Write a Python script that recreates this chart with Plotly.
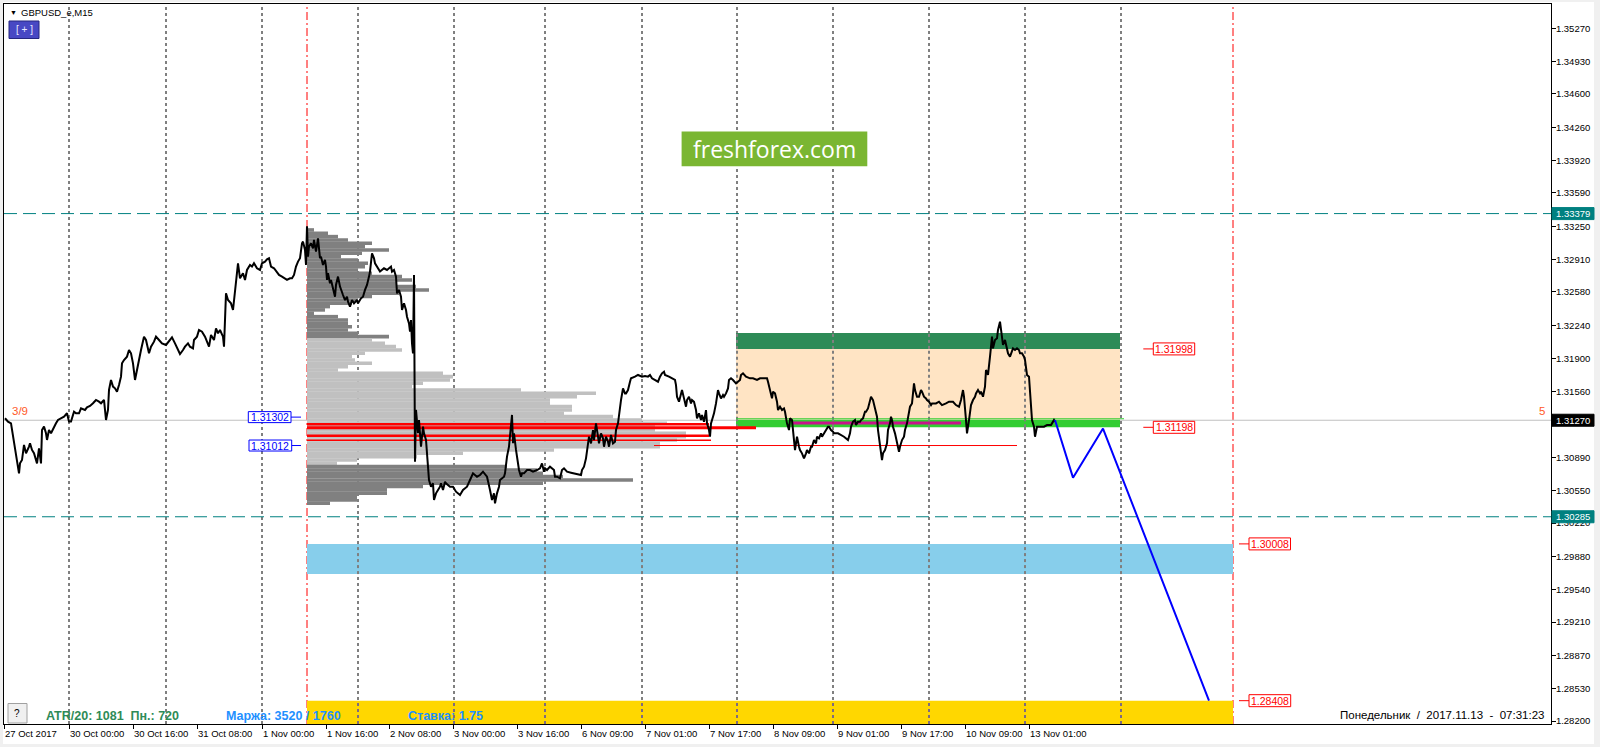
import plotly.graph_objects as go

# ---------------- data ----------------
TICK_BARS = [0, 65, 129, 193, 258, 322, 385, 449, 513, 577, 641, 705, 769, 833, 897, 961, 1025]
TICK_LABELS = ["27 Oct 2017", "30 Oct 00:00", "30 Oct 16:00", "31 Oct 08:00", "1 Nov 00:00",
               "1 Nov 16:00", "2 Nov 08:00", "3 Nov 00:00", "3 Nov 16:00", "6 Nov 09:00",
               "7 Nov 01:00", "7 Nov 17:00", "8 Nov 09:00", "9 Nov 01:00", "9 Nov 17:00",
               "10 Nov 09:00", "13 Nov 01:00"]
Y_TICKS = [1.35270, 1.34930, 1.34600, 1.34260, 1.33920, 1.33590, 1.33250, 1.32910, 1.32580,
           1.32240, 1.31900, 1.31560, 1.30890, 1.30550, 1.30220, 1.29880, 1.29540,
           1.29210, 1.28870, 1.28530, 1.28200]
Y_RANGE = [1.28170, 1.35518]
X_RANGE = [0, 1547]

DAY_SEPARATORS = [65, 162, 258, 354, 450, 541, 638, 733, 829, 925, 1021, 1117]
PERIOD_MARKERS = [303, 1229]

PRICE_BARS = [1, 4, 7, 9, 11, 13, 15, 16, 18, 20, 22, 25, 26, 28, 30, 33, 35, 37, 38, 40, 42, 43, 45, 47, 50,
    52, 54, 57, 60, 63, 65, 67, 70, 72, 75, 77, 81, 83, 86, 89, 92, 95, 97, 100, 102, 104, 105, 107, 109,
    111, 113, 115, 117, 118, 120, 123, 125, 127, 129, 131, 133, 135, 137, 140, 142, 145, 147, 150, 152,
    155, 158, 162, 165, 168, 171, 174, 176, 179, 181, 184, 186, 189, 190, 193, 195, 198, 201, 203, 205,
    207, 210, 212, 214, 216, 219, 220, 221, 222, 224, 227, 229, 231, 233, 234, 236, 239, 241, 243, 246,
    248, 250, 253, 256, 258, 261, 263, 265, 267, 270, 273, 275, 278, 281, 283, 286, 288, 290, 292, 294,
    296, 298, 299, 301, 302, 303, 304, 305, 307, 309, 310, 312, 314, 316, 317, 319, 321, 322, 323, 324,
    326, 327, 329, 331, 332, 334, 336, 337, 339, 341, 343, 344, 346, 348, 350, 353, 354, 357, 359, 361,
    363, 365, 366, 368, 370, 371, 373, 375, 376, 380, 383, 387, 388, 390, 392, 393, 395, 397, 398, 400,
    402, 403, 405, 406, 407, 408, 409, 410, 411, 412, 413, 414, 415, 417, 419, 420, 422, 424, 425, 427,
    429, 430, 432, 434, 436, 437, 439, 441, 442, 446, 449, 452, 456, 459, 463, 466, 469, 473, 476, 479,
    483, 486, 488, 490, 491, 493, 495, 496, 500, 501, 503, 505, 507, 508, 509, 510, 512, 513, 515, 517,
    518, 520, 523,
    526, 529, 533, 536, 538, 540, 541, 543, 546, 550, 551, 553, 556, 558, 560, 563, 567, 570, 573, 577,
    578, 580, 582, 583, 585, 587, 589, 590, 592, 594, 595, 597, 599, 600, 602, 604, 605, 607, 609, 611,
    612, 614, 616, 617, 619, 621, 622, 624, 626, 627, 631, 634, 638, 641, 644, 646, 648, 651, 654, 656,
    658, 660, 661, 665, 668, 671, 672, 673, 675, 676, 678, 680, 682, 683, 685, 687, 688, 690, 692, 693,
    695, 697, 698, 700, 702, 703, 705, 706, 707, 709, 710, 712, 714, 715, 717, 719, 720, 722, 724, 725,
    727, 729, 732, 736, 737, 739, 742, 746, 749, 753, 756, 759, 763, 764, 766, 768, 769, 771, 773, 774,
    776, 778, 780, 781, 783, 785, 786, 788, 790, 791, 792, 793, 795, 796, 798, 800, 802, 803, 805, 807,
    808, 810, 812, 813, 815, 817, 818, 820, 822, 824, 825, 827, 829, 830, 834, 837, 840, 844, 846, 847,
    849, 851, 852, 854, 856, 857, 859, 861, 862, 864, 866, 867, 869, 871, 873, 874, 876, 878, 879, 881,
    883, 884, 886, 887, 888, 889, 891, 893, 895, 896, 898, 900, 901, 903, 905, 906, 908, 909, 910, 911,
    913, 915, 917, 918, 920, 922, 923, 925, 927, 928, 932, 935, 938, 942, 945, 949, 952, 955, 957, 959,
    960, 962, 963, 965, 966, 967, 969, 971, 972, 974, 976, 977, 979, 981, 982, 984, 986, 988, 989, 991,
    993, 994, 996, 997, 999, 1001, 1003, 1004, 1006, 1008, 1009, 1011, 1013, 1015, 1016, 1018, 1020,
    1021, 1022, 1023, 1025, 1026, 1028, 1030, 1031, 1033, 1035, 1037, 1040, 1043, 1047, 1048, 1050, 1051]

PRICE_CLOSE = [1.31290, 1.31256, 1.31239, 1.31103, 1.31001, 1.30881, 1.30728, 1.30830, 1.30864, 1.31018,
    1.30933, 1.31001, 1.31035, 1.30967, 1.30933, 1.30830, 1.30984, 1.30830, 1.31171, 1.31205, 1.31137,
    1.31069, 1.31171, 1.31137, 1.31205, 1.31239, 1.31273, 1.31290, 1.31307, 1.31341, 1.31256, 1.31256,
    1.31358, 1.31341, 1.31341, 1.31392, 1.31375, 1.31402, 1.31416, 1.31443, 1.31477, 1.31460, 1.31443,
    1.31477, 1.31273, 1.31375, 1.31579, 1.31681, 1.31613, 1.31596, 1.31562, 1.31630, 1.31715, 1.31851,
    1.31885, 1.31919, 1.31987, 1.31953, 1.31851, 1.31681, 1.31783, 1.31919, 1.31987, 1.32123, 1.32089,
    1.31953, 1.32021, 1.32072, 1.32123, 1.32089, 1.32055, 1.32038, 1.32072, 1.32116, 1.32055, 1.31987,
    1.31946, 1.31987, 1.32021, 1.32055, 1.32021, 1.32004, 1.32089, 1.32123, 1.32191, 1.32174, 1.32123,
    1.32072, 1.32021, 1.32140, 1.32089, 1.32208, 1.32157, 1.32191, 1.32123, 1.32021, 1.32429, 1.32565,
    1.32497, 1.32463, 1.32395, 1.32600, 1.32736, 1.32872, 1.32719, 1.32770, 1.32702, 1.32804, 1.32855,
    1.32838, 1.32872, 1.32821, 1.32804, 1.32872, 1.32889, 1.32912, 1.32923, 1.32838, 1.32821, 1.32787,
    1.32753, 1.32736, 1.32719, 1.32702, 1.32719, 1.32719, 1.32753, 1.32838, 1.32889, 1.32923, 1.33076,
    1.33093, 1.33008, 1.32855, 1.33250, 1.32940, 1.33042, 1.33076, 1.33025, 1.33110, 1.32991, 1.33127,
    1.32923, 1.32940, 1.32855, 1.32906, 1.32838, 1.32702, 1.32770, 1.32668, 1.32702, 1.32600, 1.32531,
    1.32651, 1.32736, 1.32634, 1.32600, 1.32548, 1.32497, 1.32531, 1.32480, 1.32429, 1.32497, 1.32463,
    1.32497, 1.32463, 1.32514, 1.32531, 1.32600, 1.32651, 1.32736, 1.32787, 1.32974, 1.32923, 1.32872,
    1.32838, 1.32804, 1.32787, 1.32821, 1.32804, 1.32838, 1.32787, 1.32804, 1.32736, 1.32565, 1.32600,
    1.32531, 1.32395, 1.32463, 1.32395, 1.32327, 1.32259, 1.32174, 1.32293, 1.32055, 1.31953, 1.32753,
    1.30847, 1.31375, 1.31205, 1.31137, 1.31273, 1.31001, 1.31205, 1.31137, 1.31069, 1.30796, 1.30660,
    1.30592, 1.30626, 1.30456, 1.30524, 1.30558, 1.30592, 1.30626, 1.30558, 1.30643, 1.30626, 1.30592,
    1.30592, 1.30541, 1.30507, 1.30558, 1.30592, 1.30660, 1.30728, 1.30694, 1.30711, 1.30745, 1.30694,
    1.30558, 1.30456, 1.30524, 1.30422, 1.30524, 1.30592, 1.30660, 1.30694, 1.30728, 1.30899, 1.31001,
    1.31205, 1.31324, 1.31035, 1.31137, 1.30967, 1.30899, 1.30762, 1.30694, 1.30728, 1.30728, 1.30762,
    1.30762, 1.30745, 1.30762, 1.30779, 1.30830, 1.30745, 1.30779, 1.30762, 1.30796, 1.30762, 1.30694,
    1.30694, 1.30677, 1.30762, 1.30779, 1.30745, 1.30735, 1.30728, 1.30728, 1.30711, 1.30762, 1.30796,
    1.30881, 1.30966, 1.31102, 1.31034, 1.31170, 1.31068, 1.31238, 1.31102, 1.31034, 1.31136, 1.31085,
    1.31000, 1.31102, 1.31051, 1.31000, 1.31119, 1.31034, 1.31051, 1.31170, 1.31238, 1.31442, 1.31476,
    1.31595, 1.31544, 1.31544, 1.31578, 1.31663, 1.31698, 1.31715, 1.31732, 1.31715, 1.31721, 1.31715,
    1.31732, 1.31698, 1.31681, 1.31663, 1.31715, 1.31749, 1.31766, 1.31732, 1.31715, 1.31698, 1.31681,
    1.31629, 1.31510, 1.31459, 1.31510, 1.31578, 1.31493, 1.31408, 1.31476, 1.31510, 1.31442, 1.31476,
    1.31459, 1.31374, 1.31289, 1.31340, 1.31272, 1.31323, 1.31255, 1.31374, 1.31238, 1.31170, 1.31102,
    1.31238, 1.31306, 1.31340, 1.31442, 1.31578, 1.31544, 1.31493, 1.31527, 1.31510, 1.31544, 1.31595,
    1.31681, 1.31698, 1.31681, 1.31646, 1.31681, 1.31732, 1.31749, 1.31715, 1.31698, 1.31698, 1.31681,
    1.31698, 1.31698, 1.31698, 1.31663, 1.31578, 1.31493, 1.31561, 1.31544, 1.31459, 1.31374, 1.31408,
    1.31374, 1.31391, 1.31357, 1.31238, 1.31170, 1.31289, 1.31272, 1.31068, 1.30966, 1.31034, 1.31102,
    1.31000, 1.30966, 1.30932, 1.30881, 1.30932, 1.30966, 1.30932, 1.31000, 1.31000, 1.31068, 1.31034,
    1.31102, 1.31085, 1.31136, 1.31102, 1.31136, 1.31170, 1.31204, 1.31204, 1.31170, 1.31153, 1.31136,
    1.31136, 1.31119, 1.31102, 1.31068, 1.31136, 1.31204, 1.31255, 1.31272, 1.31221, 1.31255, 1.31255,
    1.31272, 1.31289, 1.31357, 1.31357, 1.31391, 1.31476, 1.31510, 1.31476, 1.31391, 1.31306, 1.31170,
    1.31034, 1.30864, 1.30932, 1.30966, 1.31034, 1.31170, 1.31238, 1.31306, 1.31272, 1.31204, 1.31136,
    1.31034, 1.30949, 1.31000, 1.31068, 1.31102, 1.31170, 1.31238, 1.31340, 1.31408, 1.31442, 1.31544,
    1.31646, 1.31578, 1.31510, 1.31510, 1.31578, 1.31561, 1.31510, 1.31493, 1.31476, 1.31459, 1.31425,
    1.31442, 1.31442, 1.31459, 1.31425, 1.31442, 1.31459, 1.31459, 1.31425, 1.31408, 1.31476, 1.31578,
    1.31510, 1.31272, 1.31136, 1.31272, 1.31340, 1.31425, 1.31476, 1.31510, 1.31544, 1.31578, 1.31544,
    1.31561, 1.31510, 1.31612, 1.31783, 1.31732, 1.31919, 1.32123, 1.32004, 1.32089, 1.32106, 1.32191,
    1.32276, 1.32191, 1.32038, 1.32089, 1.32004, 1.31953, 1.31919, 1.31987, 1.32004, 1.31987, 1.32004,
    1.31987, 1.31953, 1.31953, 1.31919, 1.31885, 1.31783, 1.31732, 1.31715, 1.31578, 1.31272, 1.31204,
    1.31102, 1.31204, 1.31204, 1.31204, 1.31204, 1.31221, 1.31221, 1.31238, 1.31272, 1.31255]

# volume profile rows (price level, length in bars), starting at bar 303
PROFILE_LEVELS = [1.33212, 1.33178, 1.33144, 1.33110, 1.33076, 1.33042, 1.33008, 1.32974, 1.32940,
    1.32906, 1.32872, 1.32838, 1.32804, 1.32770, 1.32736, 1.32702, 1.32668, 1.32634, 1.32600, 1.32566,
    1.32532, 1.32498, 1.32464, 1.32430, 1.32396, 1.32362, 1.32327, 1.32293, 1.32259, 1.32225, 1.32191,
    1.32157, 1.32123, 1.32089, 1.32055, 1.32021, 1.31987, 1.31953, 1.31919, 1.31885, 1.31851, 1.31817,
    1.31783, 1.31749, 1.31715, 1.31681, 1.31647, 1.31613, 1.31579, 1.31545, 1.31511, 1.31477, 1.31443,
    1.31409, 1.31375, 1.31341, 1.31307, 1.31273, 1.31239, 1.31205, 1.31171, 1.31137, 1.31103, 1.31069,
    1.31035, 1.31001, 1.30967, 1.30933, 1.30899, 1.30865, 1.30831, 1.30797, 1.30763, 1.30729, 1.30695,
    1.30661, 1.30627, 1.30593, 1.30559, 1.30525, 1.30491, 1.30457, 1.30423]
PROFILE_LENGTHS = [7, 21, 31, 41, 65, 58, 82, 55, 34, 51, 61, 58, 51, 65, 95, 105, 89, 109, 122, 92, 65,
    51, 45, 23, 18, 7, 31, 41, 41, 45, 41, 51, 82,
    65, 78, 89, 95, 58, 45, 48, 65, 41, 31, 136, 146, 143, 116, 105, 214, 289, 270, 243, 243, 265, 265,
    257, 306, 335, 360, 348, 348, 379, 379, 370, 353, 353, 247, 156, 110, 50, 30,
    200, 230, 236, 256, 326, 236, 116, 80, 80, 50, 50, 23]
PROFILE_PART = ["top"] * 33 + ["mid"] * 38 + ["bottom"] * 12
PROFILE_START = 303

# levels
CURRENT_PRICE = 1.31270
TEAL_LEVELS = [1.33379, 1.30285]
ZONE_SELL_TOP = [1.31998, 1.32160]
ZONE_PEACH = [1.31275, 1.31998]
ZONE_LIME = [1.31198, 1.31275]
ZONE_BOX_BARS = [732, 1116]
ZONE_SKY = [1.29700, 1.30008]
ZONE_GOLD_TOP = 1.28408
ZONE_WIDE_BARS = [303, 1229]

RED_LEVELS = [1.31228, 1.31194, 1.31112, 1.31065]
RED_ENDS = [705, 752, 705, 707]
RED_WIDTHS = [2.5, 3, 2.5, 1.5]
RED_LONG = (1.31012, 650, 1013)
MAGENTA_LEVEL = (1.31242, 788, 957)

ZIGZAG_BARS = [1051, 1069, 1099, 1205]
ZIGZAG_PRICES = [1.31272, 1.30684, 1.31185, 1.28408]

# ---------------- helpers (pixel -> paper) ----------------
L, R, T, B = 4, 49, 4, 23
W, H = 1600, 747
PW, PH = W - L - R, H - T - B


def px(x):
    return (x - L) / PW


def py(y):
    return (H - B - y) / PH


fig = go.Figure()

# volume profile
for part, col in [("top", "#808080"), ("mid", "#c0c0c0"), ("bottom", "#808080")]:
    ys = [p for p, d in zip(PROFILE_LEVELS, PROFILE_PART) if d == part]
    xs = [v for v, d in zip(PROFILE_LENGTHS, PROFILE_PART) if d == part]
    fig.add_trace(go.Bar(orientation="h", y=ys, x=xs, base=PROFILE_START, width=0.000365,
                         marker=dict(color=col, line=dict(width=0)), hoverinfo="skip",
                         showlegend=False))

# red levels
for lvl, end, w in zip(RED_LEVELS, RED_ENDS, RED_WIDTHS):
    fig.add_trace(go.Scatter(x=[PROFILE_START, end], y=[lvl, lvl], mode="lines",
                             line=dict(color="#ff0000", width=w), hoverinfo="skip", showlegend=False))
fig.add_trace(go.Scatter(x=[RED_LONG[1], RED_LONG[2]], y=[RED_LONG[0], RED_LONG[0]], mode="lines",
                         line=dict(color="#ff0000", width=1), hoverinfo="skip", showlegend=False))
fig.add_trace(go.Scatter(x=[MAGENTA_LEVEL[1], MAGENTA_LEVEL[2]], y=[MAGENTA_LEVEL[0]] * 2,
                         mode="lines", line=dict(color="#c8148c", width=3), hoverinfo="skip",
                         showlegend=False))

# price line
fig.add_trace(go.Scatter(x=PRICE_BARS, y=PRICE_CLOSE, mode="lines",
                         line=dict(color="#000000", width=2), hoverinfo="skip", showlegend=False))

# forecast zigzag
fig.add_trace(go.Scatter(x=ZIGZAG_BARS, y=ZIGZAG_PRICES, mode="lines",
                         line=dict(color="#0000ff", width=2), hoverinfo="skip", showlegend=False))

shapes = []
# window frame strips
for x0, x1, y0, y1 in [(0, 3, 0, 747), (1594, 1600, 0, 747), (0, 1600, 0, 2), (0, 1600, 744, 747)]:
    shapes.append(dict(type="rect", xref="paper", yref="paper", x0=px(x0), x1=px(x1), y0=py(y1),
                       y1=py(y0), fillcolor="#f0f0f0", line=dict(width=0), layer="below"))

# separators
for s in DAY_SEPARATORS:
    shapes.append(dict(type="line", xref="x", yref="paper", x0=s, x1=s, y0=0, y1=1,
                       line=dict(color="#000000", width=1, dash="3px,3px"), layer="below"))
for s in PERIOD_MARKERS:
    shapes.append(dict(type="line", xref="x", yref="paper", x0=s, x1=s, y0=0, y1=1,
                       line=dict(color="#ff0000", width=1, dash="8px,3px,2px,3px"), layer="below"))
# horizontal levels
for lv in TEAL_LEVELS:
    shapes.append(dict(type="line", xref="paper", yref="y", x0=0, x1=1, y0=lv, y1=lv,
                       line=dict(color="#008080", width=1, dash="13px,6px"), layer="below"))
shapes.append(dict(type="line", xref="paper", yref="y", x0=0, x1=1, y0=CURRENT_PRICE, y1=CURRENT_PRICE,
                   line=dict(color="#c0c0c0", width=1), layer="below"))

# zones
rects = [
    (ZONE_BOX_BARS, ZONE_SELL_TOP, "#2e8b57", "#d174a8"),
    (ZONE_BOX_BARS, ZONE_PEACH, "#ffe4c4", "#001b3b"),
    (ZONE_BOX_BARS, ZONE_LIME, "#32cd32", "#cd32cd"),
    (ZONE_WIDE_BARS, ZONE_SKY, "#87ceeb", "#783114"),
    (ZONE_WIDE_BARS, [Y_RANGE[0], ZONE_GOLD_TOP], "#ffd700", "#0000ff"),
]
for (bx, by, col, inv) in rects:
    shapes.append(dict(type="rect", xref="x", yref="y", x0=bx[0], x1=bx[1], y0=by[0], y1=by[1],
                       fillcolor=col, line=dict(width=0), layer="below"))
for (bx, by, col, inv) in rects:
    for s in DAY_SEPARATORS:
        if bx[0] <= s <= bx[1]:
            shapes.append(dict(type="line", xref="x", yref="y", x0=s, x1=s, y0=by[0], y1=by[1],
                               line=dict(color=inv, width=1, dash="3px,3px"), layer="between"))
shapes.append(dict(type="line", xref="x", yref="y", x0=ZONE_BOX_BARS[0], x1=ZONE_BOX_BARS[1] + 4,
                   y0=1.31285, y1=1.31285, line=dict(color="#32cd32", width=1), layer="between"))

# freshforex badge
shapes.append(dict(type="rect", xref="paper", yref="paper", x0=px(681.6), x1=px(867.3),
                   y0=py(166.3), y1=py(131.6), fillcolor="#7ab632", line=dict(width=0), layer="above"))

annotations = []
# x tick labels
for b, t in zip(TICK_BARS, TICK_LABELS):
    annotations.append(dict(x=b, xref="x", y=py(733.5), yref="paper", text=t, showarrow=False,
                            xanchor="left", yanchor="middle", xshift=-1,
                            font=dict(size=9.5, color="#000000")))


def boxed_label(price, x0_pix, x1_pix, text, fg, bg, border, half_h=6, size=10):
    shapes.append(dict(type="rect", xref="paper", yref="y", ysizemode="pixel", yanchor=price,
                       x0=px(x0_pix), x1=px(x1_pix), y0=-half_h, y1=half_h, fillcolor=bg,
                       line=dict(color=border if border else bg, width=1), layer="above"))
    annotations.append(dict(x=px((x0_pix + x1_pix) / 2), xref="paper", y=price, yref="y", text=text,
                            showarrow=False, xanchor="center", yanchor="middle",
                            font=dict(size=size, color=fg)))


# right axis markers
boxed_label(TEAL_LEVELS[0], 1552, 1594, "1.33379", "#ffffff", "#008080", None, 6, 9.5)
boxed_label(TEAL_LEVELS[1], 1552, 1594, "1.30285", "#ffffff", "#008080", None, 6, 9.5)
boxed_label(CURRENT_PRICE, 1552, 1594, "1.31270", "#ffffff", "#000000", None, 6, 9.5)

# labelled levels with short leader line
for price, bx0, bx1, lx0, lx1, txt, col in [
        (1.31998, 1153.3, 1194.7, 1143.3, 1153.3, "1.31998", "#ff0000"),
        (1.31198, 1153.3, 1194.7, 1143.3, 1153.3, "1.31198", "#ff0000"),
        (1.30008, 1249.0, 1290.5, 1239.0, 1249.0, "1.30008", "#ff0000"),
        (1.28408, 1249.0, 1290.7, 1239.0, 1249.0, "1.28408", "#ff0000"),
        (1.31302, 248.3, 291.0, 291.0, 301.0, "1.31302", "#0000ff"),
        (1.31012, 249.0, 291.7, 291.7, 301.0, "1.31012", "#0000ff")]:
    shapes.append(dict(type="line", xref="paper", yref="y", x0=px(lx0), x1=px(lx1), y0=price, y1=price,
                       line=dict(color=col, width=1), layer="above"))
    boxed_label(price, bx0, bx1, txt, col, "#ffffff", col, 6 if col == "#ff0000" else 5.5, 10.5)

# misc texts
annotations += [
    dict(x=px(8), y=py(12.5), xref="paper", yref="paper", text="\u25bc", showarrow=False,
         xanchor="left", yanchor="middle", font=dict(size=7, color="#000000")),
    dict(x=px(19), y=py(12.5), xref="paper", yref="paper", text="GBPUSD_e,M15", showarrow=False,
         xanchor="left", yanchor="middle", font=dict(size=9.5, color="#000000")),
    dict(x=px(17.4), y=py(713.3), xref="paper", yref="paper", text="?", showarrow=False,
         xanchor="center", yanchor="middle", font=dict(size=10, color="#000000")),
    dict(x=px(24), y=py(30), xref="paper", yref="paper", text="[ + ]", showarrow=False,
         xanchor="center", yanchor="middle", font=dict(size=10, color="#e8e8ff")),
    dict(x=px(44), y=py(715.5), xref="paper", yref="paper",
         text="<b>ATR/20: 1081\u00a0\u00a0Пн.: 720</b>", showarrow=False, xanchor="left",
         yanchor="middle", font=dict(size=12.5, color="#2e8b57")),
    dict(x=px(224), y=py(715.5), xref="paper", yref="paper", text="<b>Маржа: 3520 / 1760</b>",
         showarrow=False, xanchor="left", yanchor="middle", font=dict(size=12.5, color="#1e90ff")),
    dict(x=px(406), y=py(715.5), xref="paper", yref="paper", text="<b>Ставка: 1.75</b>",
         showarrow=False, xanchor="left", yanchor="middle", font=dict(size=12.5, color="#1e90ff")),
    dict(x=px(1546), y=py(715), xref="paper", yref="paper",
         text="Понедельник\u00a0 / \u00a02017.11.13\u00a0 - \u00a007:31:23", showarrow=False,
         xanchor="right", yanchor="middle", font=dict(size=11.5, color="#000000")),
    dict(x=px(10), y=py(411), xref="paper", yref="paper", text="3/9", showarrow=False,
         xanchor="left", yanchor="middle", font=dict(size=11.5, color="#ff5a28")),
    dict(x=px(1542), y=py(410.5), xref="paper", yref="paper", text="5", showarrow=False,
         xanchor="center", yanchor="middle", font=dict(size=11.5, color="#ff5a28")),
    dict(x=px(774.5), y=py(149), xref="paper", yref="paper", text="freshforex.com", showarrow=False,
         xanchor="center", yanchor="middle", font=dict(size=23, color="#ffffff", family="Open Sans")),
]
# buttons ([+] and ?)
shapes.append(dict(type="rect", xref="paper", yref="paper", x0=px(9), x1=px(39), y0=py(38.5), y1=py(21),
                   fillcolor="#4848c4", line=dict(color="#262680", width=1), layer="above"))
shapes.append(dict(type="rect", xref="paper", yref="paper", x0=px(8), x1=px(27), y0=py(723), y1=py(703.5),
                   fillcolor="#f0f0f0", line=dict(color="#a0a0a0", width=1), layer="above"))

fig.update_layout(
    width=W, height=H, margin=dict(l=L, r=R, t=T, b=B, pad=0),
    paper_bgcolor="#ffffff", plot_bgcolor="#ffffff",
    font=dict(family="Liberation Sans, Arial, sans-serif", size=10, color="#000000"),
    showlegend=False, barmode="overlay",
    shapes=shapes, annotations=annotations,
    xaxis=dict(range=X_RANGE, showgrid=False, zeroline=False, showline=True, linecolor="#000000",
               linewidth=1, mirror=True, ticks="outside", tickvals=TICK_BARS, ticklen=4,
               tickcolor="#000000", showticklabels=False, fixedrange=True),
    yaxis=dict(range=Y_RANGE, side="right", showgrid=False, zeroline=False, showline=True,
               linecolor="#000000", linewidth=1, mirror=True, ticks="outside", ticklen=4,
               tickcolor="#000000", tickvals=Y_TICKS, ticktext=[f"{v:.5f}" for v in Y_TICKS],
               tickfont=dict(size=9.5, color="#000000"), ticklabelstandoff=-2, fixedrange=True),
)

fig.write_html("out.html", config={"displayModeBar": False},
               post_script="document.body.style.margin='0';document.body.style.overflow='hidden';")
